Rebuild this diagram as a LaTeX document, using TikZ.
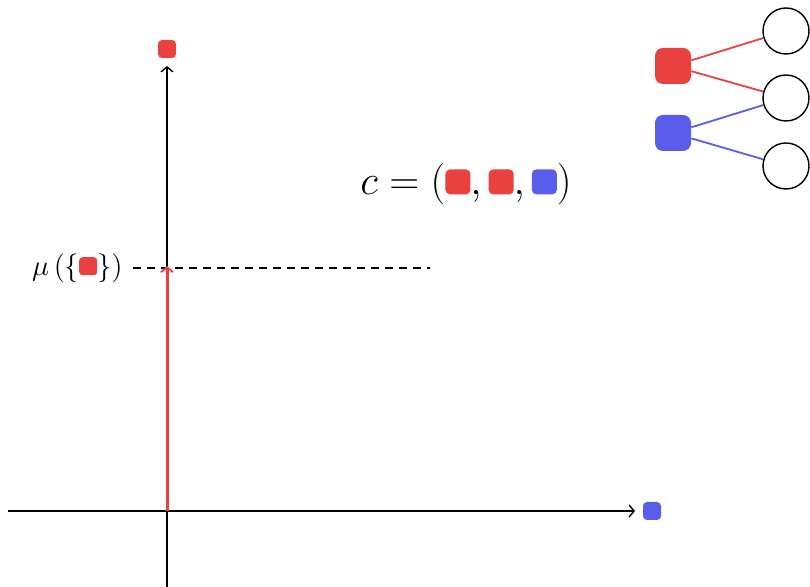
\documentclass[tikz,border=0pt]{standalone}
\usetikzlibrary{arrows.meta}
\definecolor{myred}{RGB}{233,64,64}
\definecolor{myblue}{RGB}{90,92,234}
\newcommand{\csq}[2]{\tikz[baseline=0pt]\fill[#1,rounded corners=0.18*#2](0pt,0pt) rectangle (#2,#2);}
\tikzset{
  axis/.style={line width=0.7pt,-{Straight Barb[length=2.5pt,width=6pt]}},
  redarrow/.style={myred,line width=1.5pt,-{Straight Barb[length=2.5pt,width=6pt,line width=0.9pt]}},
  tsq/.style={rounded corners=2pt,minimum size=9pt,inner sep=0pt},
  gsq/.style={rounded corners=4pt,minimum size=18pt,inner sep=0pt},
  circ/.style={circle,draw,line width=0.7pt,minimum size=23pt,inner sep=0pt},
  edge/.style={line width=0.9pt}
}
\begin{document}
\begin{tikzpicture}[x=0.5pt,y=-0.5pt]
\useasboundingbox (0,0) rectangle (810,587);
% axes
\coordinate (xl) at (8,511);
\coordinate (xr) at (635,511);
\coordinate (yb) at (167,590);
\coordinate (yt) at (167,66);
\coordinate (o) at (167,511);
\coordinate (m) at (167,266);
\coordinate (dl) at (133,268);
\coordinate (dr) at (430,268);
\draw[axis] (xl) -- (xr);
\draw[axis] (yb) -- (yt);
\node[tsq,fill=myred] (ty) at (167,49) {};
\node[tsq,fill=myblue] (tx) at (652,511) {};
\draw[dashed,line width=0.6pt,dash pattern=on 4pt off 3pt] (dl) -- (dr);
\draw[redarrow] (o) -- (m);
\node[anchor=east,inner sep=0pt] (mu) at (123,268) {\fontsize{13.5}{16}\selectfont$\mu\left(\{\csq{myred}{9pt}\}\right)$};
\node[inner sep=0pt] (c) at (466,184) {\huge$c=\left(\csq{myred}{12.5pt},\csq{myred}{12.5pt},\csq{myblue}{12.5pt}\right)$};
% graph
\node[gsq,fill=myred] (r) at (673,66) {};
\node[gsq,fill=myblue] (b) at (673,133) {};
\node[circ] (c1) at (786,31) {};
\node[circ] (c2) at (786,98) {};
\node[circ] (c3) at (786,166) {};
\draw[edge,myred] (r) -- (c1);
\draw[edge,myred] (r) -- (c2);
\draw[edge,myblue] (b) -- (c2);
\draw[edge,myblue] (b) -- (c3);
\end{tikzpicture}
\end{document}
